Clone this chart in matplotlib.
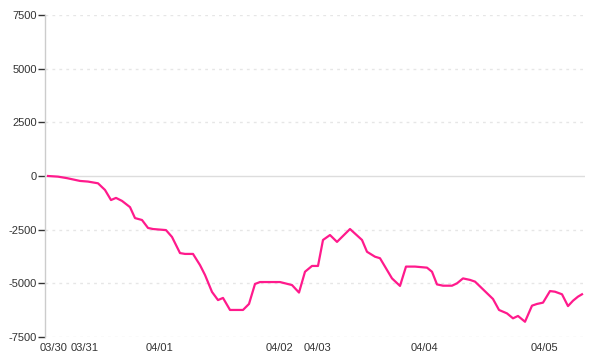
import matplotlib
matplotlib.use("Agg")
import matplotlib.pyplot as plt

# time axis (compressed session units) and cumulative values
t = [0, 10, 19, 32, 40, 50, 57, 63, 68, 74, 82, 87, 94, 100, 105, 118, 124, 132, 137, 145,
     152, 157, 164, 170, 175, 182, 195, 201, 207, 212, 232, 244, 251, 257, 264, 270, 275, 282,
     289, 302, 314, 319, 327, 332, 344, 352, 358, 367, 379, 384, 389, 395, 404, 409, 415, 422,
     427, 435, 445, 451, 459, 465, 470, 477, 484, 489, 495, 502, 507, 514, 520, 525, 530, 534]
pnl = [0, -30, -100, -230, -260, -340, -650, -1120, -1020, -1160, -1450, -1960, -2050, -2420,
       -2470, -2520, -2840, -3590, -3630, -3630, -4150, -4610, -5400, -5780, -5680, -6240, -6240,
       -5960, -5030, -4940, -4940, -5080, -5430, -4460, -4190, -4190, -2980, -2750, -3070, -2470,
       -2980, -3530, -3760, -3830, -4770, -5120, -4220, -4220, -4270, -4460, -5050, -5110, -5110,
       -5000, -4770, -4840, -4920, -5280, -5730, -6240, -6400, -6630, -6520, -6790, -6040, -5960,
       -5900, -5360, -5390, -5510, -6060, -5810, -5620, -5510]

tick_pos = [6, 37, 112, 232, 269, 376, 496]
tick_labels = ["03/30", "03/31", "04/01", "04/02", "04/03", "04/04", "04/05"]
y_ticks = [-7500, -5000, -2500, 0, 2500, 5000, 7500]

plt.rcParams['font.family'] = ['Liberation Sans', 'DejaVu Sans']
plt.rcParams['axes.unicode_minus'] = False

fig = plt.figure(figsize=(6, 3.6), dpi=100)
ax = fig.add_axes([45/600, 1-337/360, 540/600, 322/360])

for yv in y_ticks:
    if yv == 0:
        ax.axhline(yv, color="#dddddd", lw=1, zorder=1)
    else:
        ax.axhline(yv, color="#e6e6e6", lw=1, ls=(0, (2, 3)), zorder=1)

ax.plot(t, pnl, color="#ff1a8c", lw=1.6, zorder=3, solid_joinstyle="round")

ax.set_xlim(-3, 537)
ax.set_ylim(-7500, 7500)
ax.set_yticks(y_ticks)
ax.set_yticklabels([str(v) for v in y_ticks])
ax.set_xticks(tick_pos)
ax.set_xticklabels(tick_labels)

for s in ["top", "right", "bottom"]:
    ax.spines[s].set_visible(False)
ax.spines["left"].set_color("#cccccc")
ax.spines["left"].set_linewidth(1)

ax.tick_params(axis="y", length=5, width=1, color="#333333", labelsize=8,
               labelcolor="#333333", pad=1)
ax.tick_params(axis="x", length=0, labelsize=8, labelcolor="#333333", pad=4)

fig.savefig("out.png", dpi=100, facecolor="white")
